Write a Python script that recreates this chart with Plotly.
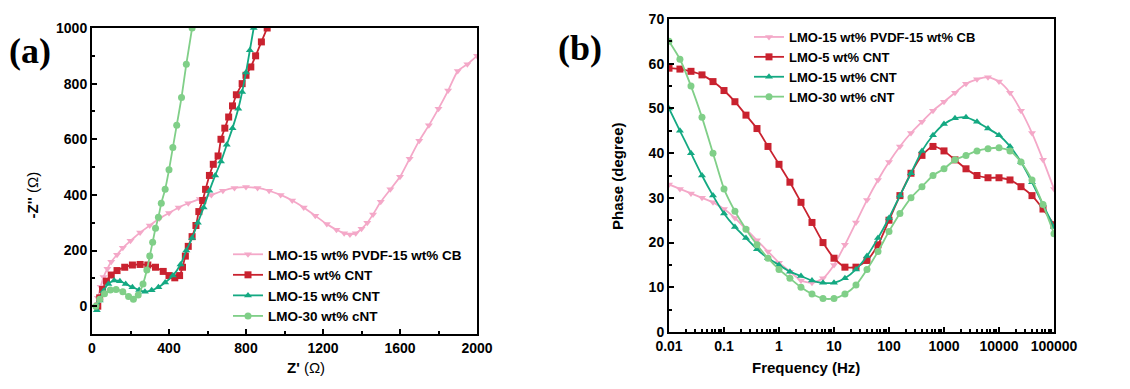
import plotly.graph_objects as go

# ---------------- Nyquist data (panel a) ----------------
pvdf_zre = [20, 30, 45, 60, 80, 100, 130, 160, 200, 250, 300, 350, 400, 450, 500, 560, 620, 680, 740, 800,
            860, 920, 980, 1040, 1100, 1160, 1220, 1270, 1310, 1340, 1370, 1400, 1430, 1460, 1500, 1550, 1600,
            1650, 1700, 1750, 1800, 1850, 1900, 1950, 2000]
pvdf_zim = [0, 30, 70, 105, 135, 160, 185, 210, 235, 265, 290, 315, 335, 355, 370, 385, 400, 415, 425, 428,
            425, 415, 400, 380, 355, 325, 295, 275, 262, 258, 262, 278, 300, 330, 375, 420, 465,
            530, 595, 650, 710, 775, 845, 870, 900]

cnt5_zre = [30, 40, 55, 75, 100, 130, 170, 210, 250, 290, 330, 370, 400, 430, 455, 470, 485, 500, 520, 540,
            555, 575, 590, 610, 630, 655, 670, 690, 710, 730, 750, 780, 800, 825, 850, 880, 910]
cnt5_zim = [0, 30, 60, 90, 112, 128, 140, 148, 150, 148, 140, 125, 110, 102, 110, 140, 180, 215, 250, 290,
            340, 380, 420, 470, 510, 540, 600, 640, 680, 720, 760, 800, 830, 860, 900, 950, 1000]

cnt15_zre = [25, 40, 60, 85, 115, 145, 175, 210, 245, 275, 310, 345, 380, 420, 460, 490, 520, 550, 580, 610,
             640, 670, 700, 730, 760, 780, 800, 820, 840]
cnt15_zim = [-15, 20, 55, 80, 92, 90, 80, 68, 58, 52, 57, 68, 85, 110, 150, 200, 245, 300, 355, 415,
             470, 520, 580, 640, 710, 770, 840, 920, 1000]

cnt30_zre = [20, 40, 65, 95, 125, 160, 190, 215, 240, 265, 285, 300, 315, 330, 345, 360, 380, 400, 420, 440,
             465, 490, 520]
cnt30_zim = [0, 25, 45, 58, 60, 52, 35, 25, 40, 80, 130, 180, 230, 280, 320, 370, 420, 490, 570, 650,
             750, 870, 1000]

# ---------------- Bode phase data (panel b) ----------------
freq = [0.01, 0.0158, 0.0251, 0.0398, 0.0631, 0.1, 0.158, 0.251, 0.398, 0.631, 1, 1.58, 2.51, 3.98, 6.31,
        10, 15.8, 25.1, 39.8, 63.1, 100, 158, 251, 398, 631, 1000, 1585, 2512, 3981, 6310,
        10000, 15849, 25119, 39811, 63096, 100000]
pvdf_phase = [33, 32, 31, 30, 29, 27.5, 25.5, 23, 20.5, 18, 15.5, 13.5, 11.5, 11, 12,
              15, 19.5, 24.5, 29.5, 34, 38, 41.5, 44.5, 47, 49.5, 51.5, 53.5, 55.5, 56.5, 57,
              56, 53.5, 49.5, 44.5, 38.5, 32]
cnt5_phase = [59, 58.8, 58.3, 57.5, 56, 54, 51.5, 48.5, 45.5, 41.5, 37.5, 33.5, 29, 24.5, 20,
              16.5, 14.5, 14.5, 16, 19.5, 25, 30.5, 35.5, 39.5, 41.5, 40.5, 38.5, 36.5, 35, 34.5,
              34.5, 34, 32.5, 30.5, 27.5, 24]
cnt15_phase = [50, 45, 40, 35, 30.5, 26.5, 23.5, 21, 18.5, 16.5, 15, 13.5, 12.5, 11.5, 11,
               11, 12, 14, 17, 21, 25.5, 30.5, 35.5, 40.5, 44, 46.5, 47.8, 48, 47, 45.5,
               44, 41.5, 38, 33.5, 28.5, 23.5]
cnt30_phase = [65, 61, 55, 48, 40, 32, 27, 23, 19.5, 16.5, 14, 12, 10, 8.5, 7.5,
               7.5, 8.5, 10.5, 14, 18, 22.5, 26.5, 30, 32.5, 35, 36.5, 38.5, 39.5, 40.5, 41,
               41.2, 40.5, 38, 34, 28.5, 22]

names = ["LMO-15 wt% PVDF-15 wt% CB", "LMO-5 wt% CNT", "LMO-15 wt% CNT", "LMO-30 wt% cNT"]
colors = ["#f4a8c8", "#c9222f", "#14a982", "#80cf88"]
symbols = ["triangle-down", "square", "triangle-up", "circle"]

FONT = "Liberation Sans, Arial, sans-serif"

fig = go.Figure()

nyq = [(pvdf_zre, pvdf_zim), (cnt5_zre, cnt5_zim), (cnt15_zre, cnt15_zim), (cnt30_zre, cnt30_zim)]
for i, (xs, ys) in enumerate(nyq):
    fig.add_trace(go.Scatter(x=xs, y=ys, mode="lines+markers", name=names[i],
                             line=dict(color=colors[i], width=1.8, shape="spline", smoothing=0.6),
                             marker=dict(symbol=symbols[i], size=7, color=colors[i]),
                             xaxis="x", yaxis="y", legend="legend"))

bode = [pvdf_phase, cnt5_phase, cnt15_phase, cnt30_phase]
for i, ys in enumerate(bode):
    fig.add_trace(go.Scatter(x=freq, y=ys, mode="lines+markers", name=names[i],
                             line=dict(color=colors[i], width=1.8, shape="spline", smoothing=0.6),
                             marker=dict(symbol=symbols[i], size=7, color=colors[i]),
                             xaxis="x2", yaxis="y2", legend="legend2"))

W, H = 1130, 389
axcommon = dict(showline=True, linecolor="black", linewidth=2, mirror=True, ticks="inside",
                ticklen=5, tickwidth=1.5, tickcolor="black", showgrid=False, zeroline=False,
                automargin=False,
                tickfont=dict(family=FONT, size=14, color="black", weight="bold"))

fig.update_layout(
    width=W, height=H, paper_bgcolor="white", plot_bgcolor="white",
    margin=dict(l=0, r=0, t=0, b=0, autoexpand=False),
    xaxis=dict(domain=[92 / W, 477 / W], range=[0, 2000], dtick=400, tick0=0,
               minor=dict(dtick=200, ticks="inside", ticklen=3, tickcolor="black"),
               anchor="y", **axcommon),
    yaxis=dict(domain=[1 - 334 / H, 1 - 28 / H], range=[-100, 1000], dtick=200, tick0=0,
               minor=dict(dtick=100, ticks="inside", ticklen=3, tickcolor="black"),
               anchor="x", **axcommon),
    xaxis2=dict(domain=[669 / W, 1054 / W], type="log", range=[-2, 5],
                tickvals=[0.01, 0.1, 1, 10, 100, 1000, 10000, 100000],
                ticktext=["0.01", "0.1", "1", "10", "100", "1000", "10000", "100000"],
                minor=dict(ticks="inside", ticklen=3, tickcolor="black", dtick="D1"),
                anchor="y2", **axcommon),
    yaxis2=dict(domain=[1 - 332 / H, 1 - 19 / H], range=[0, 70], dtick=10,
                minor=dict(dtick=5, ticks="inside", ticklen=3, tickcolor="black"),
                anchor="x2", **axcommon),
    legend=dict(x=228 / W, y=1 - 239 / H, xanchor="left", yanchor="top",
                bgcolor="rgba(0,0,0,0)", tracegroupgap=0, itemwidth=30,
                font=dict(family=FONT, size=13.5, color="black", weight="bold")),
    legend2=dict(x=749 / W, y=1 - 22 / H, xanchor="left", yanchor="top",
                 bgcolor="rgba(0,0,0,0)", tracegroupgap=0, itemwidth=30,
                 font=dict(family=FONT, size=13, color="black", weight="bold")),
    showlegend=True,
)

ann_font = dict(family=FONT, size=15, color="black")
fig.add_annotation(text="<b>Z'</b> (Ω)", x=285 / W, y=1 - 378 / H, xref="paper", yref="paper",
                   showarrow=False, font=ann_font)
fig.add_annotation(text="<b>-Z''</b> (Ω)", x=22 / W, y=1 - 195 / H, xref="paper", yref="paper",
                   showarrow=False, textangle=-90, font=ann_font)
fig.add_annotation(text="<b>Frequency (Hz)</b>", x=862 / W, y=1 - 378 / H, xref="paper", yref="paper",
                   showarrow=False, font=ann_font)
fig.add_annotation(text="<b>Phase (degree)</b>", x=617 / W, y=1 - 176 / H, xref="paper", yref="paper",
                   showarrow=False, textangle=-90, font=ann_font)
panel_font = dict(family="Liberation Serif, Times New Roman, serif", size=36, color="black")
fig.add_annotation(text="<b>(a)</b>", x=30 / W, y=1 - 51 / H, xref="paper", yref="paper",
                   xanchor="center", yanchor="middle", showarrow=False, font=panel_font)
fig.add_annotation(text="<b>(b)</b>", x=580 / W, y=1 - 48 / H, xref="paper", yref="paper",
                   xanchor="center", yanchor="middle", showarrow=False, font=panel_font)

fig.write_html("out.html", config={"displayModeBar": False},
               post_script="document.body.style.margin='0';document.body.style.padding='0';")
